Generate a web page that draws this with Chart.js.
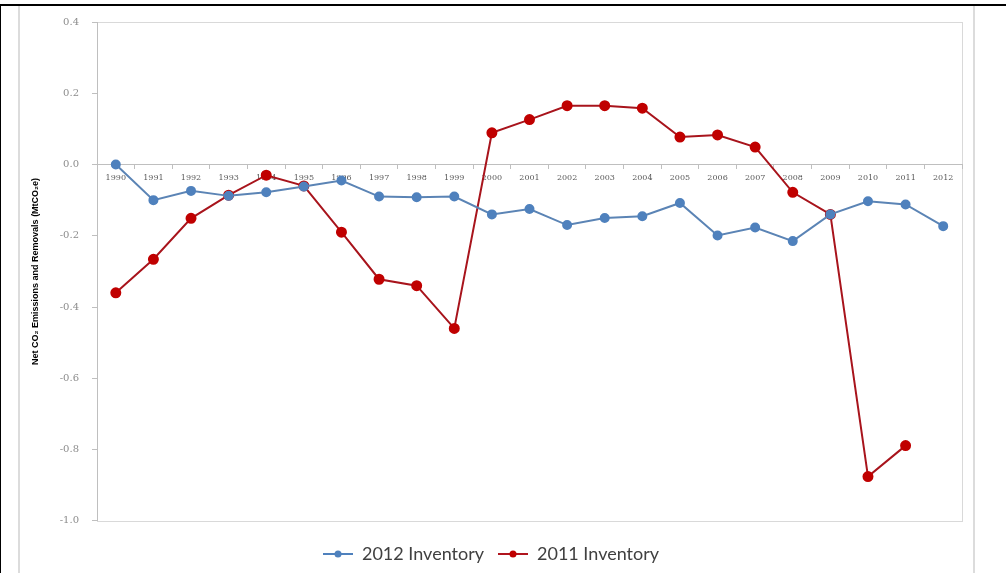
<!DOCTYPE html>
<html>
<head>
<meta charset="utf-8">
<script src="https://cdn.jsdelivr.net/npm/chart.js@4/dist/chart.umd.min.js"></script>
<style>
html,body{margin:0;padding:0;background:#fff;}
#wrap{width:1006px;height:573px;position:relative;}
</style>
</head>
<body>
<div id="wrap"><canvas id="c" width="1006" height="573"></canvas></div>
<script>
const categories = ['1990','1991','1992','1993','1994','1995','1996','1997','1998','1999','2000','2001','2002','2003','2004','2005','2006','2007','2008','2009','2010','2011','2012'];
const inventory2012 = [0.0,-0.100,-0.074,-0.088,-0.078,-0.062,-0.045,-0.090,-0.092,-0.090,-0.140,-0.125,-0.170,-0.150,-0.145,-0.108,-0.199,-0.177,-0.215,-0.140,-0.103,-0.112,-0.173];
const inventory2011 = [-0.360,-0.266,-0.151,-0.086,-0.030,-0.060,-0.190,-0.322,-0.340,-0.460,0.089,0.126,0.165,0.165,0.158,0.077,0.083,0.049,-0.078,-0.140,-0.876,-0.789,null];
const seriesNames = ['2012 Inventory','2011 Inventory'];
const yTitle = 'Net CO\u2082 Emissions and Removals (MtCO\u2082e)';

function legendIcon(lineColor, dotColor){
  const cv = document.createElement('canvas');
  cv.width = 30; cv.height = 10;
  const g = cv.getContext('2d');
  g.strokeStyle = lineColor; g.lineWidth = 2;
  g.beginPath(); g.moveTo(0,5); g.lineTo(30,5); g.stroke();
  g.fillStyle = dotColor;
  g.beginPath(); g.arc(15,5,3.5,0,Math.PI*2); g.fill();
  return cv;
}
const icons = [legendIcon('#4F81BD','#4F81BD'), legendIcon('#B0151E','#C00000')];

const frame = {
  id:'frame',
  beforeDraw(chart){
    const ctx = chart.ctx;
    ctx.save();
    ctx.fillStyle = '#fff';
    ctx.fillRect(0,0,chart.width,chart.height);
    ctx.fillStyle = '#000';
    ctx.fillRect(0,4,chart.width,2);
    ctx.fillRect(0,4,1,chart.height-4);
    ctx.fillStyle = '#DCDCDC';
    ctx.fillRect(18,6,2,chart.height-6);
    ctx.fillRect(973,6,2,chart.height-6);
    const a = chart.chartArea;
    ctx.strokeStyle = '#D9D9D9';
    ctx.lineWidth = 1;
    ctx.strokeRect(Math.round(a.left)+0.5, Math.round(a.top)+0.5, Math.round(a.right-a.left), Math.round(a.bottom-a.top));
    ctx.restore();
  }
};

new Chart(document.getElementById('c'), {
  type:'line',
  data:{
    labels: categories,
    datasets:[
      {label:seriesNames[0], data:inventory2012, borderColor:'#5B84B5', backgroundColor:'#4F81BD', pointBackgroundColor:'#4F81BD', pointBorderColor:'#4F81BD', borderWidth:2, pointRadius:4, pointStyle:'circle', tension:0},
      {label:seriesNames[1], data:inventory2011, borderColor:'#A8141C', backgroundColor:'#C00000', pointBackgroundColor:'#C00000', pointBorderColor:'#C00000', borderWidth:2, pointRadius:4.5, pointStyle:'circle', tension:0, spanGaps:false}
    ]
  },
  options:{
    responsive:false,
    animation:false,
    devicePixelRatio:1,
    layout:{padding:{left:20, right:44, top:22, bottom:0}},
    plugins:{
      legend:{
        position:'bottom',
        title:{display:true, text:'', font:{size:1}, padding:{top:9,bottom:0}},
        labels:{
          usePointStyle:true,
          pointStyleWidth:30,
          boxHeight:10,
          font:{family:'Lato, "Open Sans", sans-serif', size:18},
          color:'#404040',
          padding:14,
          generateLabels(chart){
            return chart.data.datasets.map((d,i)=>({text:d.label, pointStyle:icons[i], datasetIndex:i, fontColor:'#404040', hidden:false, lineWidth:0, strokeStyle:'transparent', fillStyle:'transparent'}));
          }
        }
      },
      tooltip:{enabled:false}
    },
    scales:{
      x:{
        type:'category',
        position:{y:0},
        offset:true,
        grid:{display:true, drawOnChartArea:false, drawTicks:true, tickLength:4, offset:true, color:'#BFBFBF'},
        border:{display:true, color:'#BFBFBF', width:1},
        ticks:{font:{family:'"DejaVu Serif", serif', size:8}, color:'#595959', maxRotation:0, autoSkip:false, padding:5}
      },
      y:{
        min:-1.0, max:0.4,
        afterFit(s){ s.width = 77; },
        grid:{display:true, drawOnChartArea:false, drawTicks:true, tickLength:5, color:'#BFBFBF'},
        border:{display:true, color:'#BFBFBF', width:1},
        ticks:{stepSize:0.2, callback:(v)=>{const n=Number(v); return (Math.abs(n)<1e-9?0:n).toFixed(1);}, font:{family:'"DejaVu Serif", serif', size:10}, color:'#8C8C8C', padding:13},
        title:{display:true, text:yTitle, font:{family:'"Liberation Sans", Arial, sans-serif', size:9, weight:'bold'}, color:'#000', padding:{top:10,bottom:0}}
      }
    }
  },
  plugins:[frame]
});
</script>
</body>
</html>
